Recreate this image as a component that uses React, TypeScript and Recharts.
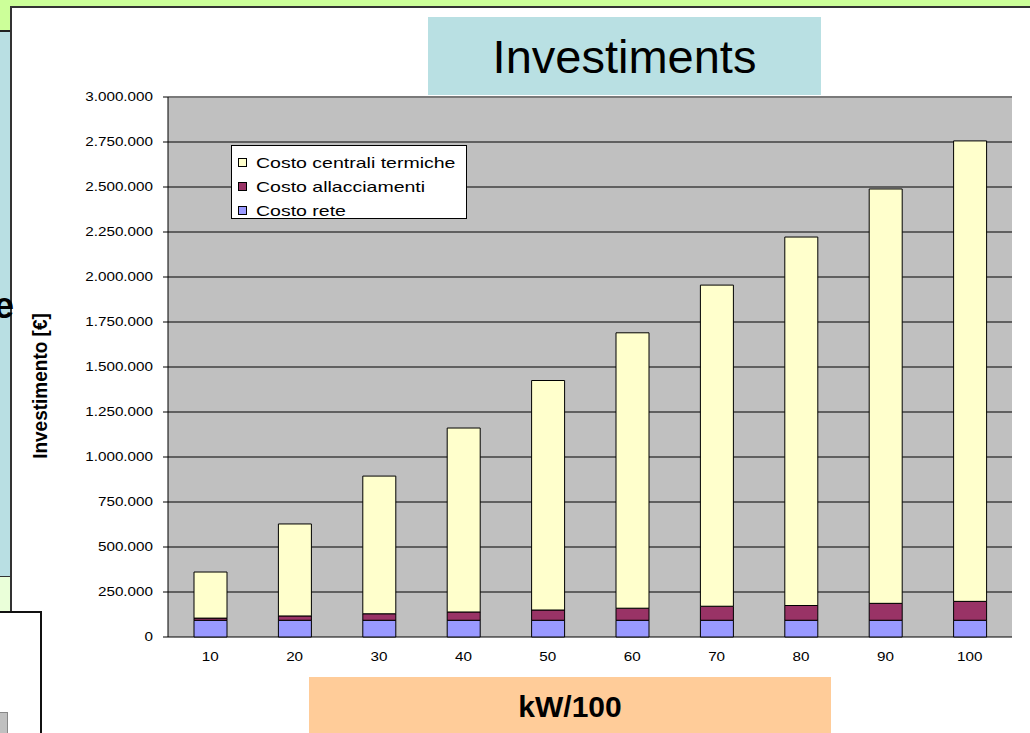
import React from 'react';
import {
  BarChart,
  Bar,
  XAxis,
  YAxis,
  CartesianGrid,
  Legend,
  ReferenceLine,
} from 'recharts';

// Installed capacity classes (kW/100)
const categories = ['10', '20', '30', '40', '50', '60', '70', '80', '90', '100'];

// Investment components, in euro
const costoRete = [93000, 93000, 93000, 93000, 93000, 93000, 93000, 93000, 93000, 93000];
const costoAllacciamenti = [12000, 24000, 36000, 46000, 57000, 67000, 78000, 82000, 94000, 105000];
const costoCentrali = [256000, 511000, 765000, 1022000, 1275000, 1530000, 1784000, 2047000, 2302000, 2558000];

const yTicks = [0, 250000, 500000, 750000, 1000000, 1250000, 1500000, 1750000, 2000000, 2250000, 2500000, 2750000, 3000000];
const xBoundaries = [0, 1, 2, 3, 4, 5, 6, 7, 8, 9, 10];

const seriesNames = {
  rete: 'Costo rete',
  allacciamenti: 'Costo allacciamenti',
  centrali: 'Costo centrali termiche',
};
const seriesColors = {
  rete: '#9999ff',
  allacciamenti: '#993366',
  centrali: '#ffffcc',
};
// legend lists the top of the stack first
const legendOrder = ['centrali', 'allacciamenti', 'rete'];

const data = categories.map((cat, i) => ({
  cat,
  rete: costoRete[i],
  allacciamenti: costoAllacciamenti[i],
  centrali: costoCentrali[i],
}));

const FONT = '"Liberation Sans", Arial, sans-serif';
const STRETCH = 1.27;

const formatThousands = (v: number) =>
  String(Math.round(v)).replace(/\B(?=(\d{3})+(?!\d))/g, '.');

const YTick = (props: any) => {
  const { x, y, payload } = props;
  return (
    <g transform={`translate(${x},${y}) scale(${STRETCH},1)`}>
      <text x={0} y={0} dy="0.36em" textAnchor="end" fontSize={12} fill="#000" fontFamily={FONT}>
        {formatThousands(payload.value)}
      </text>
    </g>
  );
};

const XTick = (props: any) => {
  const { x, y, payload } = props;
  return (
    <g transform={`translate(${x},${y}) scale(${STRETCH},1)`}>
      <text x={0} y={0} dy="0.71em" textAnchor="middle" fontSize={12} fill="#000" fontFamily={FONT}>
        {payload.value}
      </text>
    </g>
  );
};

const YTitle = (props: any) => {
  const vb = props.viewBox || { x: 0, y: 0, width: 0, height: 0 };
  const cx = vb.x - 29;
  const cy = vb.y + vb.height / 2 + 19;
  return (
    <g transform={`translate(${cx},${cy}) scale(1.1,1) rotate(-90)`}>
      <text x={0} y={0} dy="0.36em" textAnchor="middle" fontSize={19} fontWeight="bold" fill="#000" fontFamily={FONT}>
        Investimento [€]
      </text>
    </g>
  );
};

const LegendBox = (props: any) => {
  const payload = props.payload ?? [];
  const items = legendOrder
    .map((key) => payload.find((p: any) => p.dataKey === key))
    .filter(Boolean);
  return (
    <div
      style={{
        width: 234,
        height: 68,
        paddingTop: 4,
        background: '#ffffff',
        border: '1px solid #000',
        fontFamily: FONT,
      }}
    >
      {items.map((it: any) => (
        <div key={String(it.dataKey)} style={{ height: 24, display: 'flex', alignItems: 'center' }}>
          <span
            style={{
              display: 'inline-block',
              width: 7,
              height: 7,
              marginLeft: 6,
              border: '1px solid #000',
              background: (seriesColors as any)[it.dataKey] ?? it.color,
            }}
          />
          <span
            style={{
              display: 'inline-block',
              marginLeft: 9,
              fontSize: 15,
              color: '#000',
              whiteSpace: 'nowrap',
              transform: 'scaleX(1.3)',
              transformOrigin: 'left center',
            }}
          >
            {it.value}
          </span>
        </div>
      ))}
    </div>
  );
};

export default function App() {
  return (
    <div
      style={{
        position: 'absolute',
        left: 0,
        top: 0,
        width: 1030,
        height: 733,
        overflow: 'hidden',
        background: '#ccff99',
        fontFamily: FONT,
      }}
    >
      {/* slide side strip */}
      <div style={{ position: 'absolute', left: 0, top: 30, width: 11, height: 2, background: '#222' }} />
      <div style={{ position: 'absolute', left: 0, top: 32, width: 11, height: 544, background: '#b9dfe3' }} />
      <div style={{ position: 'absolute', left: 0, top: 576, width: 11, height: 1, background: '#333' }} />
      <div style={{ position: 'absolute', left: 0, top: 577, width: 11, height: 34, background: '#eaffd9' }} />

      {/* main white panel */}
      <div
        style={{
          position: 'absolute',
          left: 10,
          top: 6,
          width: 1030,
          height: 740,
          background: '#ffffff',
          borderTop: '2px solid #333',
          borderLeft: '2px solid #333',
        }}
      />

      {/* lower-left box */}
      <div
        style={{
          position: 'absolute',
          left: -2,
          top: 611,
          width: 40,
          height: 140,
          background: '#ffffff',
          border: '2px solid #111',
        }}
      />
      <div
        style={{
          position: 'absolute',
          left: -2,
          top: 712,
          width: 8,
          height: 30,
          background: '#c0c0c0',
          border: '1px solid #888',
        }}
      />
      <div
        style={{
          position: 'absolute',
          left: -6,
          top: 288,
          fontSize: 36,
          lineHeight: '36px',
          fontWeight: 'bold',
          color: '#000',
        }}
      >
        e
      </div>

      {/* title */}
      <div
        style={{
          position: 'absolute',
          left: 428,
          top: 17,
          width: 393,
          height: 78,
          background: '#b9e0e3',
          textAlign: 'center',
          lineHeight: '80px',
          fontSize: 47,
          color: '#000',
        }}
      >
        Investiments
      </div>

      {/* x-axis title */}
      <div
        style={{
          position: 'absolute',
          left: 309,
          top: 677,
          width: 522,
          height: 56,
          background: '#ffcc99',
          textAlign: 'center',
          lineHeight: '60px',
          fontSize: 30,
          fontWeight: 'bold',
          color: '#000',
        }}
      >
        kW/100
      </div>

      <div style={{ position: 'absolute', left: 0, top: 0 }}>
        <BarChart
          width={1030}
          height={733}
          data={data}
          margin={{ top: 97, right: 18, left: 68, bottom: 56 }}
          barSize={33}
        >
          <CartesianGrid
            xAxisId="cat"
            vertical={false}
            stroke="#000"
            strokeOpacity={1}
            fill="#c0c0c0"
            fillOpacity={1}
          />
          <XAxis
            xAxisId="bnd"
            type="number"
            domain={[0, 10]}
            ticks={xBoundaries}
            allowDataOverflow
            height={0}
            tick={false}
            tickSize={4}
            axisLine={{ stroke: '#000' }}
            tickLine={{ stroke: '#000' }}
          />
          <XAxis
            xAxisId="cat"
            dataKey="cat"
            height={40}
            axisLine={false}
            tickLine={false}
            tickSize={0}
            tickMargin={15}
            interval={0}
            tick={<XTick />}
          />
          <YAxis
            width={100}
            domain={[0, 3000000]}
            ticks={yTicks}
            interval={0}
            tickSize={5}
            tickMargin={10}
            axisLine={{ stroke: '#000' }}
            tickLine={{ stroke: '#000' }}
            tick={<YTick />}
            label={{ content: <YTitle /> }}
          />
          <ReferenceLine y={3000000} stroke="#7a7a7a" strokeWidth={2} ifOverflow="extendDomain" />
          <ReferenceLine xAxisId="bnd" x={10} stroke="#8a8a8a" strokeWidth={2} />
          <Legend
            layout="vertical"
            align="center"
            verticalAlign="middle"
            wrapperStyle={{ left: 231, top: 145, width: 236, height: 74 }}
            content={<LegendBox />}
          />
          <Bar
            xAxisId="cat"
            dataKey="rete"
            name={seriesNames.rete}
            stackId="inv"
            fill={seriesColors.rete}
            stroke="#000"
            strokeWidth={1}
            isAnimationActive={false}
          />
          <Bar
            xAxisId="cat"
            dataKey="allacciamenti"
            name={seriesNames.allacciamenti}
            stackId="inv"
            fill={seriesColors.allacciamenti}
            stroke="#000"
            strokeWidth={1}
            isAnimationActive={false}
          />
          <Bar
            xAxisId="cat"
            dataKey="centrali"
            name={seriesNames.centrali}
            stackId="inv"
            fill={seriesColors.centrali}
            stroke="#000"
            strokeWidth={1}
            isAnimationActive={false}
          />
        </BarChart>
      </div>
    </div>
  );
}
